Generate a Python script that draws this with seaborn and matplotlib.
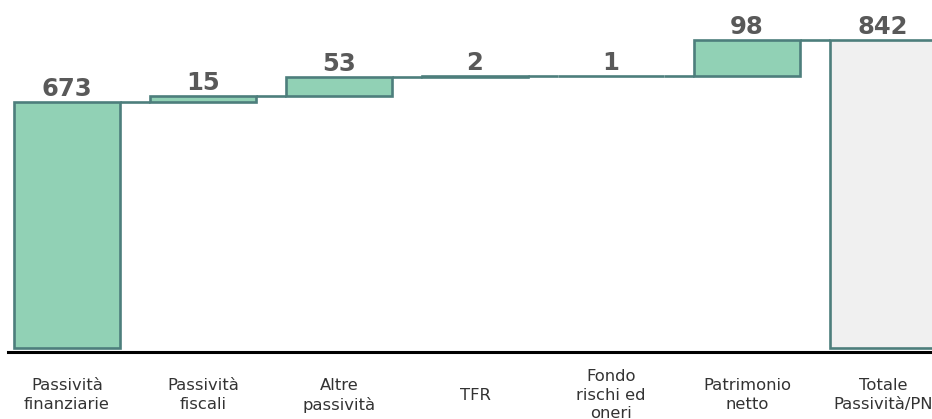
import matplotlib
matplotlib.use("Agg")
import matplotlib.pyplot as plt
import seaborn as sns
import numpy as np
import pandas as pd

categories = ["Passività\nfinanziarie", "Passività\nfiscali", "Altre\npassività", "TFR",
              "Fondo\nrischi ed\noneri", "Patrimonio\nnetto", "Totale\nPassività/PN"]
increments = [673, 15, 53, 2, 1, 98]
total = 842

sns.set_theme(style="white")
plt.rcParams['font.family'] = ['DejaVu Sans']

GREEN = "#91D1B5"
EDGE = "#4D7E7C"
GREY = "#F0F0F0"

inc = np.array(increments, dtype=float)
tops = np.cumsum(inc)
bases = tops - inc

fig = plt.figure(figsize=(9.32, 4.19), dpi=100)
ax = fig.add_axes([8/932, 67/419, 924/932, 352/419])

df_inc = pd.DataFrame({"cat": categories[:-1], "val": inc})
df_tot = pd.DataFrame({"cat": [categories[-1]], "val": [total]})

sns.barplot(data=df_inc, x="cat", y="val", order=categories, bottom=bases,
            color=GREEN, saturation=1, width=0.78, errorbar=None,
            edgecolor=EDGE, linewidth=1.9, ax=ax, zorder=3)
sns.barplot(data=df_tot, x="cat", y="val", order=categories,
            color=GREY, saturation=1, width=0.78, errorbar=None,
            edgecolor=EDGE, linewidth=1.9, ax=ax, zorder=3)

# connectors
w = 0.78
for i, lvl in enumerate(tops):
    ax.plot([i + w/2, i + 1 - w/2], [lvl, lvl], color=EDGE, lw=1.9, zorder=2,
            solid_capstyle="butt")

# value labels
vals = list(increments) + [total]
topvals = list(tops) + [total]
for i, (v, t) in enumerate(zip(vals, topvals)):
    ax.annotate(f"{v}", (i, t), xytext=(0, 1), textcoords="offset points",
                ha="center", va="bottom", fontsize=17.5, fontweight="bold",
                color="#595959")

ax.set_xlim(-0.434, 6.36)
ax.set_ylim(-11, 952)
ax.set_xlabel("")
ax.set_ylabel("")
ax.set_yticks([])
for s in ["left", "right", "top"]:
    ax.spines[s].set_visible(False)
ax.spines["bottom"].set_color("black")
ax.spines["bottom"].set_linewidth(2.2)
ax.tick_params(axis="x", length=0, pad=31, labelsize=11.8, labelcolor="#333333")
for lab in ax.get_xticklabels():
    lab.set_va("center")
    lab.set_linespacing(1.3)

fig.savefig("out.png", dpi=100)
